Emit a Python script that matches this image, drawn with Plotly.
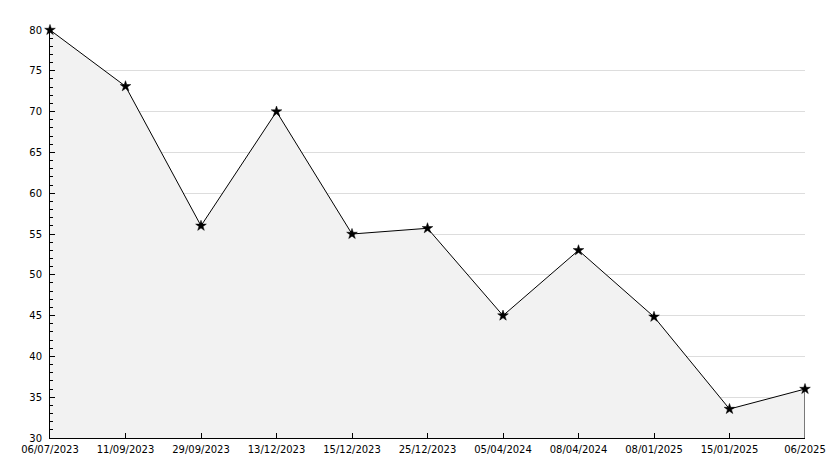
import plotly.graph_objects as go

dates = ["06/07/2023", "11/09/2023", "29/09/2023", "13/12/2023", "15/12/2023",
         "25/12/2023", "05/04/2024", "08/04/2024", "08/01/2025", "15/01/2025", "06/2025"]
values = [80, 73.1, 56, 70, 55, 55.7, 45, 53, 44.85, 33.55, 36]
y_min, y_max = 30, 80

fig = go.Figure()
fig.add_trace(go.Scatter(
    x=list(range(len(dates))), y=values, mode="lines+markers",
    fill="tozeroy", fillcolor="#f2f2f2",
    line=dict(color="black", width=1),
    marker=dict(symbol="star", size=8, color="black", line=dict(color="black", width=0.5)),
    cliponaxis=False,
    hoverinfo="skip", showlegend=False,
))
# right edge of the filled area
fig.add_trace(go.Scatter(
    x=[len(dates) - 1, len(dates) - 1], y=[y_min, values[-1]], mode="lines",
    line=dict(color="black", width=1), hoverinfo="skip", showlegend=False,
))

fig.update_layout(
    width=818, height=452,
    margin=dict(l=42, r=21, t=22, b=22, autoexpand=False),
    paper_bgcolor="white", plot_bgcolor="white",
    font=dict(family="DejaVu Sans", size=10, color="black"),
    xaxis=dict(
        range=[0, len(dates) - 1], tickmode="array",
        tickvals=list(range(len(dates))), ticktext=dates,
        showgrid=False, zeroline=False, automargin=False,
        showline=True, linecolor="black", linewidth=1,
        ticks="inside", ticklen=5, tickcolor="black",
        ticklabelstandoff=2,
        tickfont=dict(size=10),
    ),
    yaxis=dict(
        range=[y_min, y_max], tick0=30, dtick=5,
        showgrid=True, gridcolor="#dddddd", gridwidth=1, zeroline=False,
        showline=True, linecolor="black", linewidth=1, automargin=False,
        ticks="inside", ticklen=5, tickcolor="black",
        ticklabelstandoff=5,
        minor=dict(dtick=1, ticks="inside", ticklen=3, tickcolor="black", showgrid=False),
        tickfont=dict(size=10),
    ),
)
fig.write_html("out.html")
